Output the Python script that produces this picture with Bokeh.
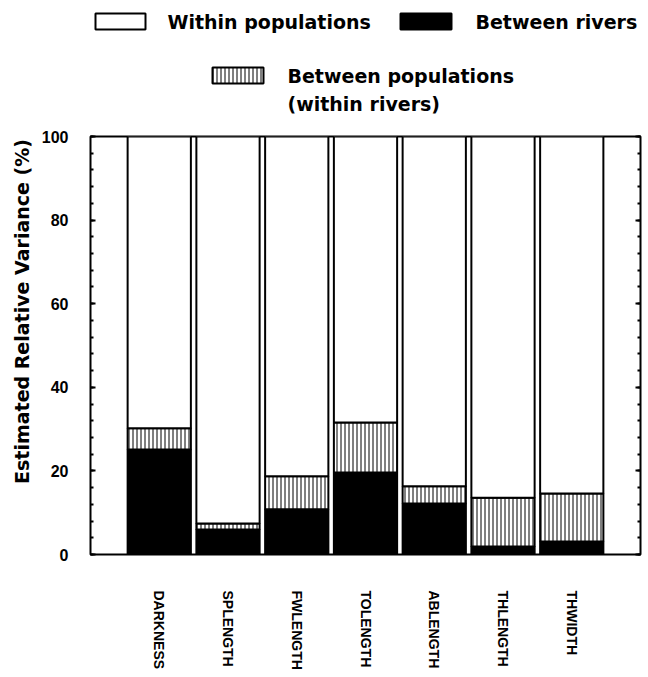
from math import pi
from bokeh.plotting import figure
from bokeh.layouts import column, row
from bokeh.models import ColumnDataSource, FactorRange, Range1d, LinearAxis, SingleIntervalTicker
from bokeh.core.properties import value
from bokeh.embed import file_html
from bokeh.resources import INLINE

# ---- data ----
traits = ["DARKNESS", "SPLENGTH", "FWLENGTH", "TOLENGTH", "ABLENGTH", "THLENGTH", "THWIDTH"]
between_rivers = [25.1, 6.0, 10.8, 19.6, 12.2, 1.9, 3.1]
between_pops = [5.1, 1.4, 7.9, 12.0, 4.1, 11.7, 11.5]
within_pops = [69.8, 92.6, 81.3, 68.4, 83.7, 86.4, 85.4]
y_ticks_step = 20
legend_labels = ["Within populations", "Between rivers", "Between populations", "(within rivers)"]
y_label = "Estimated Relative Variance (%)"

FONT = value("DejaVu Sans")
TICKFONT = "Liberation Sans"

# ---- y label panel (full height) ----
yf = figure(width=34, height=677, x_range=Range1d(0, 34), y_range=Range1d(677, 0),
            output_backend="svg", toolbar_location=None, min_border=0)
yf.axis.visible = False
yf.grid.visible = False
yf.outline_line_color = None
yf.text(x=[21], y=[311], text=[y_label], angle=pi / 2, text_font=FONT,
        text_font_style="bold", text_font_size="19px", text_align="center",
        text_baseline="middle", text_color="black")

# ---- legend panel (its frame is aligned with the chart frame: x 90..640) ----
lf = figure(width=614, height=120, x_range=Range1d(90, 640), y_range=Range1d(120, 0),
            output_backend="svg", toolbar_location=None, min_border=0)
lf.axis.visible = False
lf.grid.visible = False
lf.outline_line_color = None
lf.quad(left=[95], right=[145], top=[13], bottom=[29], fill_color="white",
        line_color="black", line_width=2)
lf.quad(left=[400], right=[451], top=[13], bottom=[29], fill_color="black",
        line_color="black", line_width=2)
lf.quad(left=[212], right=[263], top=[67], bottom=[83], fill_color="white",
        line_color="black", line_width=2, hatch_pattern="|", hatch_scale=4,
        hatch_weight=1, hatch_color="black")
lf.text(x=[167, 475, 287, 287], y=[21, 21, 75, 103], text=legend_labels,
        text_font=FONT, text_font_style="bold", text_font_size="19px",
        text_align="left", text_baseline="middle", text_color="black")

# ---- main chart ----
src = ColumnDataSource(dict(trait=traits, rivers=between_rivers, pops=between_pops,
                            within=within_pops))
mf = figure(width=614, height=557,
            x_range=FactorRange(factors=traits, range_padding=0.5, range_padding_units="absolute"),
            y_range=Range1d(0, 100), output_backend="svg", toolbar_location=None,
            min_border_left=56, min_border_right=8, min_border_top=16, min_border_bottom=123)
mf.vbar_stack(["rivers", "pops", "within"], x="trait", width=0.92, source=src,
              fill_color=["black", "white", "white"], line_color="black", line_width=2,
              hatch_pattern=[" ", "|", " "], hatch_scale=4, hatch_weight=1,
              hatch_color="black")

mf.grid.visible = False
mf.outline_line_color = "black"
mf.outline_line_width = 2
mf.background_fill_color = "white"

mf.yaxis.ticker = SingleIntervalTicker(interval=y_ticks_step, num_minor_ticks=5)
mf.yaxis.axis_line_color = None
mf.yaxis.major_tick_in = 5
mf.yaxis.major_tick_out = 0
mf.yaxis.minor_tick_in = 3
mf.yaxis.minor_tick_out = 0
mf.yaxis.major_tick_line_width = 2
mf.yaxis.minor_tick_line_width = 2
mf.yaxis.major_label_standoff = 22
mf.yaxis.major_label_text_font = TICKFONT
mf.yaxis.major_label_text_font_style = "bold"
mf.yaxis.major_label_text_font_size = "16px"
mf.yaxis.major_label_text_color = "black"

ra = LinearAxis(ticker=SingleIntervalTicker(interval=y_ticks_step, num_minor_ticks=5),
                axis_line_color=None, major_tick_in=5, major_tick_out=0,
                minor_tick_in=3, minor_tick_out=0, major_tick_line_width=2,
                minor_tick_line_width=2, major_label_standoff=0,
                major_label_overrides={v: "" for v in range(0, 101, y_ticks_step)})
mf.add_layout(ra, "right")

mf.xaxis.axis_line_color = None
mf.xaxis.major_tick_line_color = None
mf.xaxis.minor_tick_line_color = None
mf.xaxis.major_label_orientation = "vertical"
mf.xaxis.major_label_standoff = 30
mf.xaxis.major_label_text_font = TICKFONT
mf.xaxis.major_label_text_font_style = "bold"
mf.xaxis.major_label_text_font_size = "14px"
mf.xaxis.major_label_text_color = "black"

layout = row(yf, column(lf, mf))
open("out.html", "w").write(file_html(layout, INLINE))
